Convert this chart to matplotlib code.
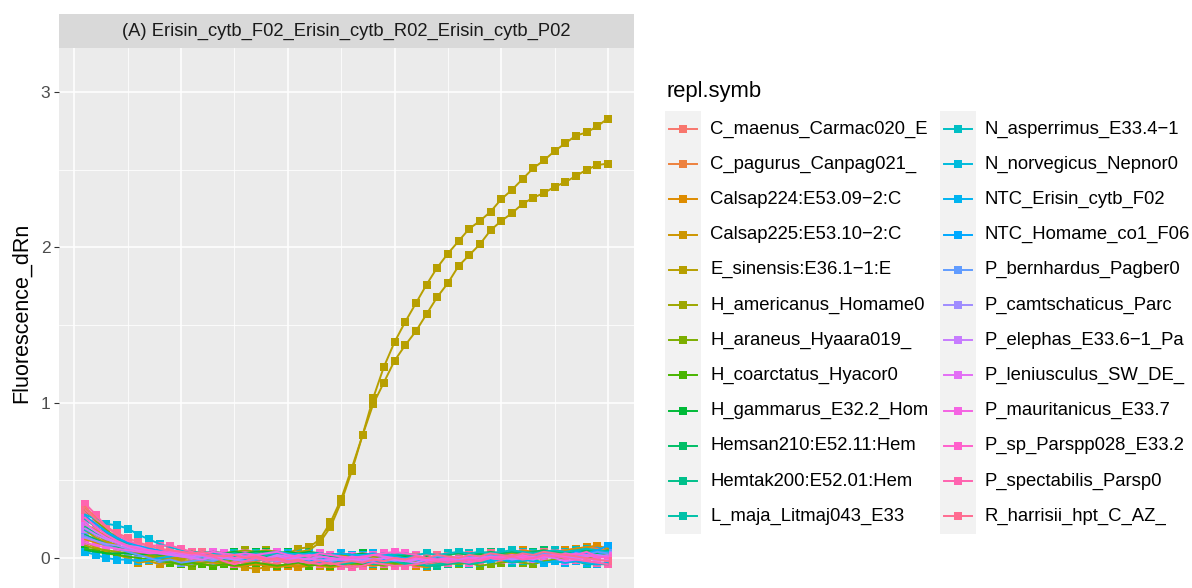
import matplotlib
matplotlib.use("Agg")
import matplotlib.pyplot as plt
from matplotlib.patches import Rectangle
from matplotlib.lines import Line2D
import numpy as np

plt.rcParams["font.family"] = ["Liberation Sans", "DejaVu Sans"]

# ---------------------------------------------------------------- data
cycles = list(range(1, 51))

facet_title = "(A) Erisin_cytb_F02_Erisin_cytb_R02_Erisin_cytb_P02"
y_label = "Fluorescence_dRn"
legend_title = "repl.symb"
y_ticks = [0, 1, 2, 3]

level_labels = [
    "C_maenus_Carmac020_E", "C_pagurus_Canpag021_", "Calsap224:E53.09\u22122:C",
    "Calsap225:E53.10\u22122:C", "E_sinensis:E36.1\u22121:E", "H_americanus_Homame0",
    "H_araneus_Hyaara019_", "H_coarctatus_Hyacor0", "H_gammarus_E32.2_Hom",
    "Hemsan210:E52.11:Hem", "Hemtak200:E52.01:Hem", "L_maja_Litmaj043_E33",
    "N_asperrimus_E33.4\u22121", "N_norvegicus_Nepnor0", "NTC_Erisin_cytb_F02",
    "NTC_Homame_co1_F06", "P_bernhardus_Pagber0", "P_camtschaticus_Parc",
    "P_elephas_E33.6\u22121_Pa", "P_leniusculus_SW_DE_", "P_mauritanicus_E33.7",
    "P_sp_Parspp028_E33.2", "P_spectabilis_Parsp0", "R_harrisii_hpt_C_AZ_",
]

c_maenus = [0.33, 0.26, 0.2, 0.15, 0.11, 0.08, 0.06, 0.05, 0.03, 0.02,
            0.01, 0.0, -0.01, -0.02, -0.03, -0.02, -0.04, -0.03, -0.04, -0.05,
            -0.04, -0.05, -0.04, -0.03, -0.05, -0.04, -0.05, -0.04, -0.03, -0.04,
            -0.05, -0.04, -0.03, -0.04, -0.03, -0.02, -0.03, -0.02, -0.01, -0.02,
            -0.01, 0.0, -0.01, 0.0, 0.01, 0.0, 0.01, 0.02, 0.01, 0.02]
c_pagurus = [0.22, 0.18, 0.14, 0.11, 0.08, 0.06, 0.04, 0.03, 0.02, 0.01,
             0.0, -0.01, 0.0, -0.02, -0.01, -0.03, -0.02, -0.01, -0.02, -0.03,
             -0.04, -0.03, -0.02, -0.03, -0.04, -0.03, -0.02, -0.03, -0.02, -0.01,
             -0.02, -0.03, -0.02, -0.01, 0.0, -0.01, 0.0, 0.01, 0.02, 0.01,
             0.02, 0.03, 0.04, 0.03, 0.04, 0.05, 0.06, 0.07, 0.06, 0.05]
calsap224 = [0.12, 0.1, 0.08, 0.06, 0.04, 0.02, 0.01, 0.0, -0.01, -0.02,
             -0.02, -0.03, -0.03, -0.04, -0.04, -0.05, -0.04, -0.05, -0.06, -0.05,
             -0.06, -0.05, -0.04, -0.05, -0.04, -0.03, -0.04, -0.05, -0.04, -0.05,
             -0.04, -0.05, -0.06, -0.04, -0.03, -0.02, -0.01, 0.0, 0.01, 0.02,
             0.03, 0.05, 0.04, 0.05, 0.04, 0.05, 0.06, 0.07, 0.08, 0.06]
calsap225 = [0.1, 0.07, 0.04, 0.02, 0.0, -0.03, -0.02, -0.04, -0.03, -0.04,
             -0.03, -0.04, -0.05, -0.04, -0.05, -0.06, -0.07, -0.06, -0.05, -0.04,
             -0.05, -0.04, -0.05, -0.06, -0.05, -0.06, -0.05, -0.04, -0.03, -0.04,
             -0.03, -0.02, -0.03, -0.02, -0.01, 0.0, 0.01, 0.02, 0.01, 0.02,
             0.03, 0.02, 0.03, 0.04, 0.03, 0.04, 0.03, 0.04, 0.05, 0.04]
e_sinensis_well1 = [0.2, 0.15, 0.11, 0.08, 0.06, 0.04, 0.03, 0.02, 0.01, 0.0,
                    0.0, -0.01, 0.0, 0.01, 0.0, 0.01, 0.0, 0.01, 0.02, 0.03,
                    0.06, 0.07, 0.12, 0.23, 0.38, 0.58, 0.79, 1.03, 1.23, 1.39,
                    1.52, 1.64, 1.76, 1.87, 1.96, 2.04, 2.12, 2.17, 2.23, 2.31,
                    2.37, 2.44, 2.51, 2.56, 2.62, 2.67, 2.72, 2.74, 2.78, 2.83]
e_sinensis_well2 = [0.18, 0.13, 0.1, 0.07, 0.05, 0.03, 0.02, 0.01, 0.0, -0.01,
                    0.0, -0.01, -0.02, -0.01, 0.0, -0.01, 0.0, 0.01, 0.0, 0.02,
                    0.04, 0.05, 0.1, 0.2, 0.36, 0.56, 0.79, 0.99, 1.13, 1.27,
                    1.37, 1.46, 1.57, 1.68, 1.77, 1.88, 1.95, 2.02, 2.11, 2.17,
                    2.22, 2.28, 2.32, 2.35, 2.39, 2.42, 2.46, 2.5, 2.53, 2.54]
h_americanus = [0.08, 0.06, 0.05, 0.04, 0.03, 0.03, 0.02, 0.03, 0.02, 0.03,
                0.04, 0.03, 0.04, 0.03, 0.04, 0.05, 0.04, 0.05, 0.04, 0.03,
                0.02, 0.03, 0.02, 0.01, 0.02, 0.01, 0.0, 0.01, 0.0, -0.01,
                0.0, -0.01, 0.0, -0.02, -0.01, 0.0, -0.01, 0.0, 0.01, 0.0,
                0.01, 0.02, 0.01, 0.02, 0.03, 0.02, 0.03, 0.02, 0.03, 0.04]
h_araneus = [0.31, 0.24, 0.18, 0.13, 0.09, 0.05, 0.02, 0.0, -0.02, -0.04,
             -0.05, -0.03, -0.02, -0.03, -0.01, -0.02, 0.0, -0.01, 0.01, 0.0,
             -0.01, 0.0, -0.02, -0.03, -0.02, -0.04, -0.03, -0.04, -0.05, -0.04,
             -0.03, -0.02, -0.03, -0.02, -0.03, -0.04, -0.03, -0.05, -0.04, -0.03,
             -0.02, -0.03, -0.04, -0.02, -0.01, 0.0, 0.01, 0.0, 0.01, 0.02]
h_coarctatus = [0.06, 0.05, 0.03, 0.02, 0.01, 0.0, -0.01, -0.02, -0.03, -0.04,
                -0.03, -0.04, -0.05, -0.04, -0.05, -0.04, -0.03, -0.04, -0.05, -0.04,
                -0.03, -0.05, -0.04, -0.05, -0.04, -0.03, -0.04, -0.03, -0.02, -0.03,
                -0.02, -0.01, -0.02, -0.01, 0.0, 0.01, 0.0, 0.01, 0.02, 0.01,
                0.02, 0.01, 0.02, 0.03, 0.02, 0.01, 0.02, 0.03, 0.02, 0.03]
h_gammarus = [0.05, 0.04, 0.03, 0.03, 0.03, 0.02, 0.03, 0.02, 0.03, 0.03,
              0.04, 0.03, 0.04, 0.03, 0.04, 0.03, 0.04, 0.04, 0.03, 0.04,
              0.03, 0.04, 0.03, 0.02, 0.03, 0.02, 0.03, 0.02, 0.01, 0.02,
              0.01, 0.0, 0.01, 0.0, 0.01, 0.0, 0.01, 0.02, 0.01, 0.02,
              0.01, 0.02, 0.03, 0.02, 0.03, 0.02, 0.03, 0.04, 0.03, 0.04]
hemsan210 = [0.15, 0.12, 0.09, 0.07, 0.05, 0.04, 0.04, 0.03, 0.04, 0.03,
             0.04, 0.03, 0.02, 0.03, 0.02, 0.01, 0.02, 0.01, 0.02, 0.01,
             0.0, 0.01, 0.02, 0.01, 0.0, -0.01, 0.0, -0.01, 0.0, 0.01,
             0.02, 0.01, 0.0, 0.01, 0.02, 0.03, 0.02, 0.03, 0.04, 0.03,
             0.04, 0.03, 0.04, 0.05, 0.04, 0.03, 0.04, 0.05, 0.04, 0.05]
hemtak200 = [0.2, 0.16, 0.13, 0.1, 0.08, 0.06, 0.04, 0.03, 0.02, 0.01,
             0.02, 0.0, 0.01, -0.01, 0.0, 0.01, -0.01, 0.0, -0.02, -0.01,
             0.0, -0.02, -0.01, -0.03, -0.02, -0.01, -0.02, -0.03, -0.01, -0.02,
             -0.03, -0.04, -0.05, -0.05, -0.04, -0.03, -0.02, -0.01, 0.01, 0.02,
             0.01, 0.0, 0.02, 0.01, 0.03, 0.02, 0.04, 0.03, 0.02, 0.04]
l_maja = [0.25, 0.2, 0.16, 0.12, 0.09, 0.07, 0.05, 0.04, 0.03, 0.02,
          0.03, 0.01, 0.02, 0.0, 0.01, -0.01, 0.0, -0.02, -0.01, 0.0,
          -0.02, -0.01, -0.03, -0.02, -0.04, -0.03, -0.02, -0.04, -0.03, -0.02,
          -0.04, -0.03, -0.05, -0.04, -0.03, -0.02, -0.04, -0.03, -0.02, -0.01,
          -0.03, -0.02, -0.01, -0.03, -0.02, -0.03, -0.02, -0.04, -0.04, -0.04]
n_asperrimus = [0.18, 0.15, 0.12, 0.1, 0.08, 0.06, 0.05, 0.04, 0.04, 0.04,
                0.03, 0.04, 0.03, 0.02, 0.03, 0.02, 0.03, 0.02, 0.03, 0.02,
                0.03, 0.02, 0.03, 0.02, 0.03, 0.02, 0.01, 0.02, 0.03, 0.02,
                0.03, 0.02, 0.03, 0.02, 0.03, 0.04, 0.03, 0.04, 0.03, 0.04,
                0.05, 0.04, 0.03, 0.04, 0.05, 0.04, 0.05, 0.06, 0.05, 0.04]
n_norvegicus = [0.28, 0.25, 0.22, 0.21, 0.19, 0.15, 0.12, 0.09, 0.07, 0.05,
                0.04, 0.03, 0.02, 0.01, 0.0, -0.01, 0.0, -0.02, -0.01, -0.03,
                -0.02, -0.01, -0.03, -0.02, -0.01, -0.02, -0.03, -0.02, -0.01, -0.02,
                -0.01, 0.0, -0.01, -0.02, 0.0, -0.01, 0.0, 0.01, -0.01, 0.0,
                0.01, 0.0, 0.02, 0.01, 0.0, 0.02, 0.01, 0.03, 0.02, 0.04]
ntc_erisin = [0.04, 0.02, 0.0, -0.01, -0.01, -0.02, -0.01, 0.0, 0.01, 0.02,
              0.02, 0.03, 0.02, 0.03, 0.02, 0.03, 0.02, 0.03, 0.04, 0.03,
              0.02, 0.03, 0.03, 0.02, 0.03, 0.02, 0.02, 0.03, 0.02, 0.01,
              0.0, 0.01, 0.0, -0.01, 0.0, -0.01, -0.02, -0.01, -0.02, -0.01,
              -0.02, -0.01, -0.02, -0.03, -0.02, -0.03, -0.02, -0.03, -0.04, -0.03]
ntc_homame = [0.27, 0.22, 0.17, 0.13, 0.1, 0.08, 0.06, 0.05, 0.04, 0.03,
              0.02, 0.03, 0.01, 0.02, 0.0, 0.01, -0.01, 0.0, 0.01, -0.01,
              0.0, -0.02, -0.01, 0.0, -0.02, -0.01, -0.03, -0.02, -0.01, 0.0,
              -0.02, -0.01, -0.03, -0.02, -0.01, -0.02, 0.0, -0.01, 0.01, 0.0,
              0.02, 0.01, 0.0, 0.02, 0.03, 0.01, 0.04, 0.03, 0.05, 0.08]
p_bernhardus = [0.14, 0.11, 0.08, 0.06, 0.04, 0.02, 0.0, -0.02, -0.01, -0.03,
                -0.02, -0.01, -0.02, 0.0, -0.01, -0.02, -0.01, 0.0, -0.02, -0.01,
                0.0, -0.01, 0.01, 0.0, -0.01, 0.0, 0.01, -0.01, 0.0, -0.02,
                -0.01, 0.0, -0.01, 0.01, 0.0, -0.01, 0.01, 0.0, 0.02, 0.01,
                0.0, 0.02, 0.01, 0.03, 0.02, 0.01, 0.03, 0.02, 0.04, 0.03]
p_camtschaticus = [0.13, 0.11, 0.09, 0.08, 0.06, 0.05, 0.04, 0.03, 0.02, 0.01,
                   0.0, 0.01, -0.01, 0.0, -0.01, -0.02, 0.0, -0.01, -0.02, -0.01,
                   -0.02, -0.03, -0.01, -0.02, -0.01, 0.0, -0.01, -0.02, 0.0, -0.01,
                   -0.02, -0.01, 0.0, -0.01, -0.02, -0.01, 0.0, 0.01, 0.0, -0.01,
                   0.0, 0.01, 0.0, 0.01, 0.02, 0.0, 0.01, 0.02, 0.01, 0.02]
p_elephas = [0.19, 0.15, 0.12, 0.1, 0.08, 0.07, 0.05, 0.04, 0.03, 0.02,
             0.01, 0.02, 0.0, 0.01, -0.01, 0.0, 0.01, 0.0, 0.02, 0.01,
             0.0, -0.01, 0.01, 0.0, -0.01, -0.02, 0.0, -0.01, -0.02, -0.01,
             -0.02, -0.03, -0.01, -0.02, -0.01, 0.0, -0.02, -0.01, 0.0, 0.01,
             -0.01, 0.0, 0.01, 0.0, 0.02, 0.01, 0.0, 0.01, 0.02, 0.01]
p_leniusculus = [0.22, 0.17, 0.13, 0.1, 0.07, 0.05, 0.04, 0.03, 0.02, 0.01,
                 0.0, -0.01, 0.01, 0.0, 0.02, 0.01, 0.0, -0.01, 0.01, 0.0,
                 -0.01, 0.0, -0.02, -0.01, 0.0, -0.01, -0.02, -0.01, 0.0, -0.01,
                 -0.02, -0.01, 0.0, -0.02, -0.01, 0.0, -0.01, 0.01, 0.0, -0.01,
                 0.01, 0.0, -0.01, 0.01, 0.0, -0.02, -0.01, 0.0, -0.02, -0.01]
p_mauritanicus = [0.1, 0.08, 0.07, 0.06, 0.05, 0.04, 0.03, 0.03, 0.04, 0.03,
                  0.02, 0.03, 0.04, 0.03, 0.02, 0.03, 0.02, 0.03, 0.04, 0.02,
                  0.01, 0.02, 0.01, 0.0, -0.01, 0.01, 0.0, 0.02, 0.01, 0.0,
                  -0.01, 0.0, -0.02, -0.01, 0.0, 0.01, 0.0, -0.01, 0.01, 0.0,
                  0.01, 0.02, 0.0, 0.01, 0.02, 0.01, 0.03, 0.02, 0.0, 0.01]
p_sp = [0.26, 0.2, 0.15, 0.11, 0.08, 0.06, 0.05, 0.04, 0.05, 0.04,
        0.03, 0.02, 0.01, 0.02, 0.0, 0.01, 0.02, 0.0, -0.01, 0.0,
        0.02, 0.01, 0.03, 0.02, 0.01, 0.0, 0.01, 0.02, 0.03, 0.04,
        0.03, 0.02, 0.0, -0.01, -0.01, -0.02, -0.03, -0.01, 0.0, 0.01,
        0.02, 0.01, 0.0, 0.02, 0.01, 0.03, 0.02, 0.04, 0.01, 0.0]
p_spectabilis = [0.35, 0.28, 0.2, 0.15, 0.11, 0.09, 0.08, 0.08, 0.08, 0.06,
                 0.04, 0.02, 0.01, -0.02, -0.04, -0.02, 0.0, -0.02, -0.01, -0.03,
                 -0.02, -0.03, -0.04, -0.03, -0.05, -0.06, -0.05, -0.03, -0.04, -0.05,
                 -0.05, -0.04, -0.03, -0.02, -0.03, -0.02, -0.01, -0.02, 0.0, -0.01,
                 0.01, -0.01, 0.0, 0.02, 0.01, 0.0, -0.01, -0.02, -0.03, -0.04]
r_harrisii = [0.31, 0.25, 0.2, 0.16, 0.13, 0.1, 0.08, 0.06, 0.05, 0.04,
              0.03, 0.04, 0.02, 0.01, 0.02, 0.0, 0.01, -0.01, 0.0, -0.02,
              -0.01, -0.03, -0.02, -0.04, -0.03, -0.02, -0.03, -0.01, -0.02, 0.0,
              -0.01, 0.01, 0.0, 0.02, 0.01, 0.0, 0.02, 0.01, 0.03, 0.02,
              0.01, 0.03, 0.02, 0.04, 0.03, 0.02, 0.01, 0.0, -0.01, -0.02]

# one entry per well: (index of its level, readings)
wells = [
    (0, c_maenus), (1, c_pagurus), (2, calsap224), (3, calsap225),
    (4, e_sinensis_well1), (4, e_sinensis_well2), (5, h_americanus),
    (6, h_araneus), (7, h_coarctatus), (8, h_gammarus), (9, hemsan210),
    (10, hemtak200), (11, l_maja), (12, n_asperrimus), (13, n_norvegicus),
    (14, ntc_erisin), (15, ntc_homame), (16, p_bernhardus),
    (17, p_camtschaticus), (18, p_elephas), (19, p_leniusculus),
    (20, p_mauritanicus), (21, p_sp), (22, p_spectabilis), (23, r_harrisii),
]


# ------------------------------------------------ ggplot-like hue palette
def hcl_hex(h, c=100.0, l=65.0):
    white_y, white_u, white_v = 100.0, 0.1978398, 0.4683363
    hr = np.deg2rad(h)
    U, V = c * np.cos(hr), c * np.sin(hr)
    Y = white_y * ((l + 16) / 116) ** 3 if l > 7.999592 else white_y * l / 903.3
    u = U / (13 * l) + white_u
    v = V / (13 * l) + white_v
    X = 9.0 * Y * u / (4 * v)
    Z = -X / 3 - 5 * Y + 3 * Y / v

    def gtrans(t):
        return 1.055 * t ** (1 / 2.4) - 0.055 if t > 0.00304 else 12.92 * t

    r = gtrans((3.240479 * X - 1.537150 * Y - 0.498535 * Z) / white_y)
    g = gtrans((-0.969256 * X + 1.875992 * Y + 0.041556 * Z) / white_y)
    b = gtrans((0.055648 * X - 0.204043 * Y + 1.057311 * Z) / white_y)
    rgb = [min(max(x, 0.0), 1.0) for x in (r, g, b)]
    return "#" + "".join(f"{int(round(x * 255)):02X}" for x in rgb)


n_levels = len(level_labels)
hues = np.linspace(15, 360, n_levels)
palette = [hcl_hex(h) for h in hues]

# ---------------------------------------------------------------- figure
W, H = 1192, 588
fig = plt.figure(figsize=(W / 100, H / 100), dpi=100)

ax = fig.add_axes([59 / W, 0, 575 / W, 540 / H])
ax.set_facecolor("#EBEBEB")
for s in ax.spines.values():
    s.set_visible(False)
ax.set_xlim(-1.45, 52.45)
ax.set_ylim(-0.193, 3.284)
ax.set_xticks([0, 10, 20, 30, 40, 50])
ax.set_xticks([5, 15, 25, 35, 45], minor=True)
ax.set_yticks(y_ticks)
ax.set_yticks([0.5, 1.5, 2.5], minor=True)
ax.grid(which="major", color="white", lw=1.1)
ax.grid(which="minor", color="white", lw=0.55)
ax.set_axisbelow(True)
ax.tick_params(axis="x", which="both", length=0, labelbottom=False)
ax.tick_params(axis="y", which="major", length=3.3, width=0.8, color="#333333",
               labelsize=12.5, labelcolor="#4D4D4D", pad=3)
ax.tick_params(axis="y", which="minor", length=0)
ax.set_yticklabels([str(t) for t in y_ticks])
ax.set_ylabel(y_label, fontsize=15.5, color="black", va="center")
ax.yaxis.set_label_coords(-0.066, 0.51)

# squares first, connecting lines drawn over them
for lvl, vals in wells:
    ax.plot(cycles, vals, ls="none", marker="s", ms=6.2, mfc=palette[lvl],
            mec=palette[lvl], mew=0, zorder=2)
for lvl, vals in wells:
    ax.plot(cycles, vals, color=palette[lvl], lw=1.4, zorder=3)

# facet strip
sax = fig.add_axes([59 / W, (H - 48) / H, 575 / W, 34 / H])
sax.set_facecolor("#D9D9D9")
sax.set_xticks([])
sax.set_yticks([])
for s in sax.spines.values():
    s.set_visible(False)
sax.text(0.5, 0.5, facet_title, ha="center", va="center", fontsize=13.2,
         color="#1A1A1A", transform=sax.transAxes)

# legend, laid out in pixel units
lax = fig.add_axes([0, 0, 1, 1])
lax.set_xlim(0, W)
lax.set_ylim(H, 0)
lax.axis("off")
lax.text(666, 91, legend_title, fontsize=15.8, ha="left", va="center",
         color="black")
row0, row_h, key_w = 129.0, 35.2, 36
col_x = [665, 940]
for i, name in enumerate(level_labels):
    col, row = divmod(i, 12)
    kx = col_x[col]
    cy = row0 + row * row_h
    lax.add_patch(Rectangle((kx, cy - row_h / 2), key_w, row_h,
                            facecolor="#F2F2F2", edgecolor="none"))
    lax.add_line(Line2D([kx + 4, kx + key_w - 4], [cy, cy],
                        color=palette[i], lw=1.4))
    lax.add_line(Line2D([kx + key_w / 2], [cy], ls="none", marker="s",
                        ms=5.2, mfc=palette[i], mec=palette[i], mew=0))
    lax.text(kx + 45, cy, name, fontsize=13.35, ha="left", va="center",
             color="black")

fig.savefig("out.png", dpi=100)
